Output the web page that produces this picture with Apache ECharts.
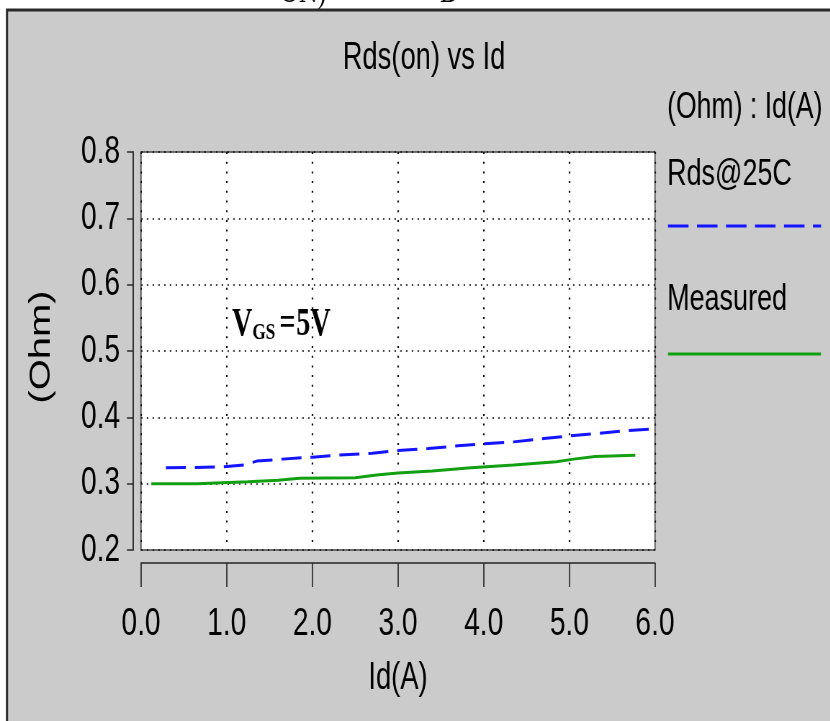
<!DOCTYPE html>
<html>
<head>
<meta charset="utf-8">
<title>Rds(on) vs Id</title>
<script src="https://cdn.jsdelivr.net/npm/echarts@6/dist/echarts.min.js"></script>
<style>
  html, body { margin: 0; padding: 0; background: #ffffff; }
  #wrap { width: 830px; height: 721px; overflow: hidden; }
  /* the plot is laid out wide and then condensed horizontally */
  #chart { width: 1153px; height: 721px; transform: scaleX(0.72); transform-origin: 0 0; }
</style>
</head>
<body>
<div id="wrap"><div id="chart"></div></div>
<script>
// Drain current axis ticks (A) and on-resistance ticks (Ohm)
const xTicks = [0, 1, 2, 3, 4, 5, 6];
const yTicks = [0.2, 0.3, 0.4, 0.5, 0.6, 0.7, 0.8];

// Rds@25C model curve (Ohm) against Id (A)
const rds25Id  = [0.29, 0.9, 1.2, 1.35, 1.65, 2.0, 2.3, 2.7, 3.0, 3.35, 3.7, 4.0, 4.35, 4.7, 5.0, 5.35, 5.65, 5.93];
const rds25Ohm = [0.324, 0.325, 0.328, 0.334, 0.337, 0.340, 0.343, 0.346, 0.350, 0.353, 0.357, 0.360, 0.363, 0.368, 0.372, 0.376, 0.380, 0.382];

// Measured on-resistance (Ohm) against Id (A)
const measId  = [0.12, 0.65, 1.25, 1.6, 1.85, 2.5, 2.75, 3.0, 3.4, 3.85, 4.35, 4.85, 5.05, 5.3, 5.77];
const measOhm = [0.300, 0.300, 0.303, 0.305, 0.308, 0.309, 0.313, 0.316, 0.319, 0.324, 0.328, 0.333, 0.337, 0.341, 0.343];

const S = 0.72;                       // horizontal condensing factor of the page
const px = v => v / S;                // on-screen x distance -> layout x distance
const SANS = '"Liberation Sans", Arial, sans-serif';
const SERIF = '"Liberation Serif", "Times New Roman", serif';
const BLUE = '#1414ff';
const GREEN = '#12a012';

const zip = (xs, ys) => xs.map((x, i) => [x, ys[i]]);

const chart = echarts.init(document.getElementById('chart'), null, { renderer: 'canvas' });

chart.setOption({
  backgroundColor: '#ffffff',
  animation: false,
  grid: {
    left: px(141), top: 152, width: px(514), height: 398,
    show: true, backgroundColor: '#ffffff',
    borderColor: '#444', borderWidth: 1.6, z: -1
  },
  xAxis: {
    type: 'value', z: 2,
    min: xTicks[0], max: xTicks[xTicks.length - 1], interval: 1,
    offset: 13,
    name: 'Id(A)', nameLocation: 'middle', nameGap: 97,
    nameTextStyle: { fontFamily: SANS, fontSize: 38, color: '#000' },
    axisLine: { show: true, onZero: false, lineStyle: { color: '#222', width: 1.6 } },
    axisTick: { show: true, length: 24, lineStyle: { color: '#333', width: 1.8 } },
    axisLabel: { margin: 42, fontFamily: SANS, fontSize: 39, color: '#000',
                 formatter: v => v.toFixed(1) },
    splitLine: { show: true, lineStyle: { color: '#111', width: 2.2, type: [2, 7.7] } }
  },
  yAxis: {
    type: 'value', z: 2,
    min: yTicks[0], max: yTicks[yTicks.length - 1], interval: 0.1,
    offset: px(8),
    axisLine: { show: true, onZero: false, lineStyle: { color: '#222', width: 1.8 } },
    axisTick: { show: true, length: px(6), lineStyle: { color: '#333', width: 1.6 } },
    axisLabel: { margin: px(13), fontFamily: SANS, fontSize: 39, color: '#000',
                 formatter: v => v.toFixed(1) },
    splitLine: { show: true, lineStyle: { color: '#111', width: 1.6, type: [2.2, 5.8] } }
  },
  series: [
    {
      name: 'Rds@25C', type: 'line', data: zip(rds25Id, rds25Ohm),
      showSymbol: false, symbol: 'none', z: 3,
      lineStyle: { color: BLUE, width: 3, type: [px(20), px(9)] }
    },
    {
      name: 'Measured', type: 'line', data: zip(measId, measOhm),
      showSymbol: false, symbol: 'none', z: 3,
      lineStyle: { color: GREEN, width: 3 }
    }
  ],
  graphic: [
    // heading fragments peeking above the panel
    { type: 'text', z: -3, x: px(280), y: 11,
      style: { text: 'ON)', font: '36px ' + SERIF, fill: '#000', align: 'left', verticalAlign: 'bottom' } },
    { type: 'text', z: -3, x: px(440), y: 11,
      style: { text: 'D', font: '36px ' + SERIF, fill: '#000', align: 'left', verticalAlign: 'bottom' } },
    // grey panel with dark frame
    { type: 'rect', z: -2, shape: { x: px(7), y: 10, width: px(850), height: 730 },
      style: { fill: '#cbcbcb', stroke: '#2a2a2a', lineWidth: 3 } },
    // chart heading
    { type: 'text', z: 5, x: px(424), y: 59,
      style: { text: 'Rds(on) vs Id', font: '38px ' + SANS, fill: '#000', align: 'center', verticalAlign: 'middle' } },
    // vertical axis name
    { type: 'text', z: 5, x: px(42), y: 347, rotation: Math.PI / 2,
      style: { text: '(Ohm)', font: '40px ' + SANS, fill: '#000', align: 'center', verticalAlign: 'middle' } },
    // legend block
    { type: 'text', z: 5, x: px(667), y: 108,
      style: { text: '(Ohm) : Id(A)', font: '37px ' + SANS, fill: '#000', align: 'left', verticalAlign: 'middle' } },
    { type: 'text', z: 5, x: px(667), y: 175,
      style: { text: 'Rds@25C', font: '37.5px ' + SANS, fill: '#000', align: 'left', verticalAlign: 'middle' } },
    { type: 'line', z: 5, shape: { x1: px(668), y1: 226, x2: px(821), y2: 226 },
      style: { stroke: BLUE, lineWidth: 3, lineDash: [px(20.5), px(8.5)] } },
    { type: 'text', z: 5, x: px(667), y: 300,
      style: { text: 'Measured', font: '37.5px ' + SANS, fill: '#000', align: 'left', verticalAlign: 'middle' } },
    { type: 'line', z: 5, shape: { x1: px(668), y1: 354, x2: px(821), y2: 354 },
      style: { stroke: GREEN, lineWidth: 3 } },
    // gate drive annotation
    { type: 'text', z: 10, x: px(232), y: 325,
      style: {
        text: '{v|V}{s|GS}{e|=}{n|5V}',
        font: 'bold 39px ' + SERIF, fill: '#000', align: 'left', verticalAlign: 'middle',
        rich: {
          v: { font: 'bold 39px ' + SERIF, fill: '#000' },
          s: { font: 'bold 24px ' + SERIF, fill: '#000', padding: [15, 0, 0, 0] },
          e: { font: 'bold 39px ' + SERIF, fill: '#000', padding: [0, px(1), 0, px(4)] },
          n: { font: 'bold 39px ' + SERIF, fill: '#000' }
        }
      } }
  ]
});
</script>
</body>
</html>
